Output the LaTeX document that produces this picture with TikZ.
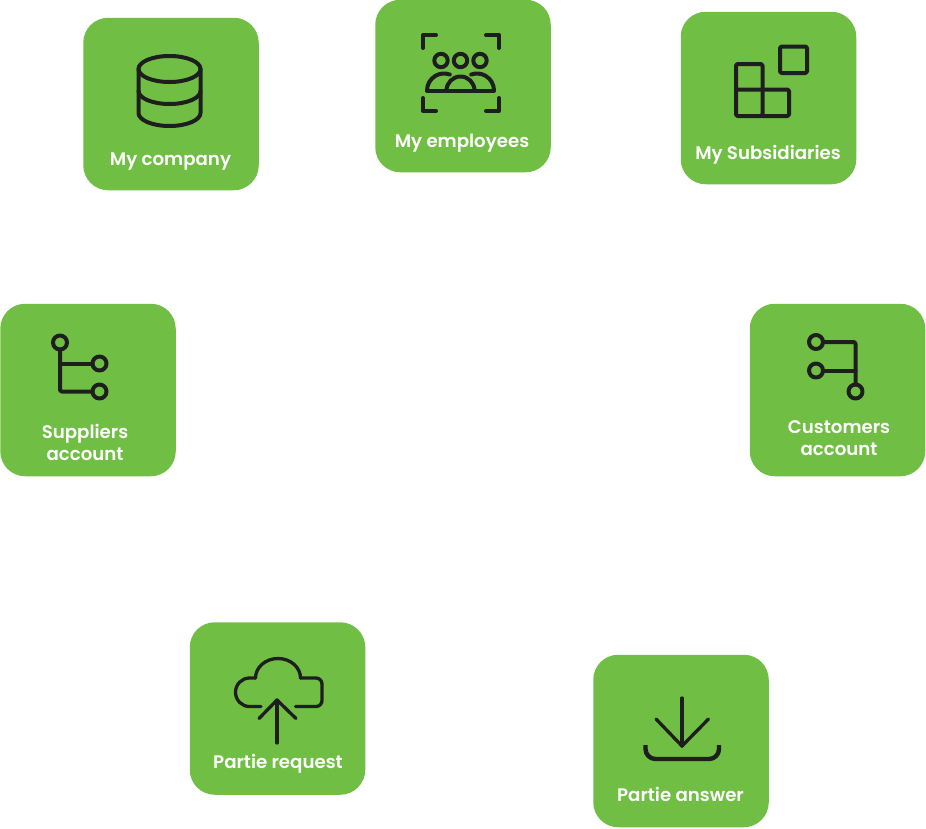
\documentclass[tikz,border=0pt]{standalone}
\usepackage{fontspec}
\setmainfont{Poppins SemiBold}
\definecolor{tilegreen}{HTML}{70BF44}
\definecolor{icondark}{HTML}{1E1E1E}
\tikzset{
    tile/.style={fill=tilegreen, draw=none, rounded corners=25pt, minimum width=175.5pt, minimum height=172.5pt, inner sep=0pt},
    tilelabel/.style={text=white, font=\fontsize{18.2}{22}\selectfont, align=center, inner sep=0pt},
    icon/.style={draw=icondark, line width=4pt, line cap=round, line join=round},
    thinicon/.style={icon, line width=3.3pt}
}
\begin{document}
\begin{tikzpicture}[x=1pt, y=-1pt]
    \useasboundingbox (0,0) rectangle (926,828);

    \node[tile] (company) at (171,104) {};
    \node[tile] (employees) at (463,86) {};
    \node[tile] (subsidiaries) at (768.5,98) {};
    \node[tile] (suppliers) at (88,390) {};
    \node[tile] (customers) at (837.5,390) {};
    \node[tile] (request) at (277.5,708.5) {};
    \node[tile] (answer) at (681,741) {};

    \node[tilelabel] (companytext) at (170.5,161.5) {My company};
    \node[tilelabel] (employeestext) at (462,143) {My employees};
    \node[tilelabel] (subsidiariestext) at (768,155) {My Subsidiaries};
    \node[tilelabel] (supplierstext) at (85,442) {Suppliers\\account};
    \node[tilelabel] (customerstext) at (839,438) {Customers\\account};
    \node[tilelabel] (requesttext) at (278,764) {Partie request};
    \node[tilelabel] (answertext) at (680.5,794.5) {Partie answer};

    % database
    \draw[icon] (169.5,69) ellipse [x radius=31, y radius=13];
    \draw[icon] (138.5,69) -- (138.5,113) arc [start angle=180, end angle=0, x radius=31, y radius=13] -- (200.5,69);
    \draw[icon] (138.5,91) arc [start angle=180, end angle=0, x radius=31, y radius=13];

    % employees
    \draw[icon] (436,35) -- (423,35) -- (423,48);
    \draw[icon] (486,35) -- (499,35) -- (499,48);
    \draw[icon] (423,98) -- (423,111) -- (436,111);
    \draw[icon] (499,98) -- (499,111) -- (486,111);
    \foreach \x in {441,460.5,480} {%
        \draw[icon] (\x,60.5) circle (6.7);%
    }
    \draw[icon] (427,90.5) -- (494,90.5);
    \draw[icon] (446.5,90.5) arc [start angle=180, end angle=360, radius=14];
    \draw[icon] (427,90.5) arc [start angle=180, end angle=290, radius=17];
    \draw[icon] (494,90.5) arc [start angle=360, end angle=250, radius=17];

    % subsidiaries
    \draw[icon, rounded corners=1.5pt] (780,46.5) rectangle (807,73);
    \draw[icon, rounded corners=1.5pt] (736,89.5) -- (736,64) -- (762.5,64) -- (762.5,116) -- (736,116) -- cycle;
    \draw[icon, rounded corners=1.5pt] (736,89.5) -- (789,89.5) -- (789,116) -- (762.5,116);

    % suppliers tree
    \foreach \x/\y in {60/342.5,99.5/363.5,99.5/391.5} {%
        \draw[icon] (\x,\y) circle (7);%
    }
    \draw[icon, rounded corners=2pt] (60,349.5) -- (60,391.5) -- (92.5,391.5);
    \draw[icon] (60,363.5) -- (92.5,363.5);

    % customers tree
    \foreach \x/\y in {816/342,816/370.5,855.5/391.5} {%
        \draw[icon] (\x,\y) circle (7);%
    }
    \draw[icon, rounded corners=2pt] (823,342) -- (855.5,342) -- (855.5,384.5);
    \draw[icon] (823,370.5) -- (855.5,370.5);

    % cloud upload
    \draw[thinicon, rounded corners=6pt] (295.5,706.5) -- (322,706.5) -- (322,678) -- (300.5,678);
    \draw[thinicon] (300.5,678) arc [start angle=0, end angle=180, x radius=22.5, y radius=-19.5];
    \draw[thinicon] (255.5,678) -- (249.5,678) arc [start angle=90, end angle=270, x radius=14, y radius=-14.25] -- (261,706.5);
    \draw[thinicon] (259,718.5) -- (277,700) -- (296,718.5);
    \draw[thinicon] (277,700) -- (277,743);

    % download tray
    \draw[thinicon] (656,719) -- (682,746) -- (708.5,719);
    \draw[thinicon] (682,698) -- (682,746);
    \draw[icon, line width=4.4pt, line cap=butt] (645.5,745) -- (645.5,749) arc [start angle=180, end angle=90, radius=10] -- (709,759) arc [start angle=90, end angle=0, radius=10] -- (719,745);
\end{tikzpicture}
\end{document}
